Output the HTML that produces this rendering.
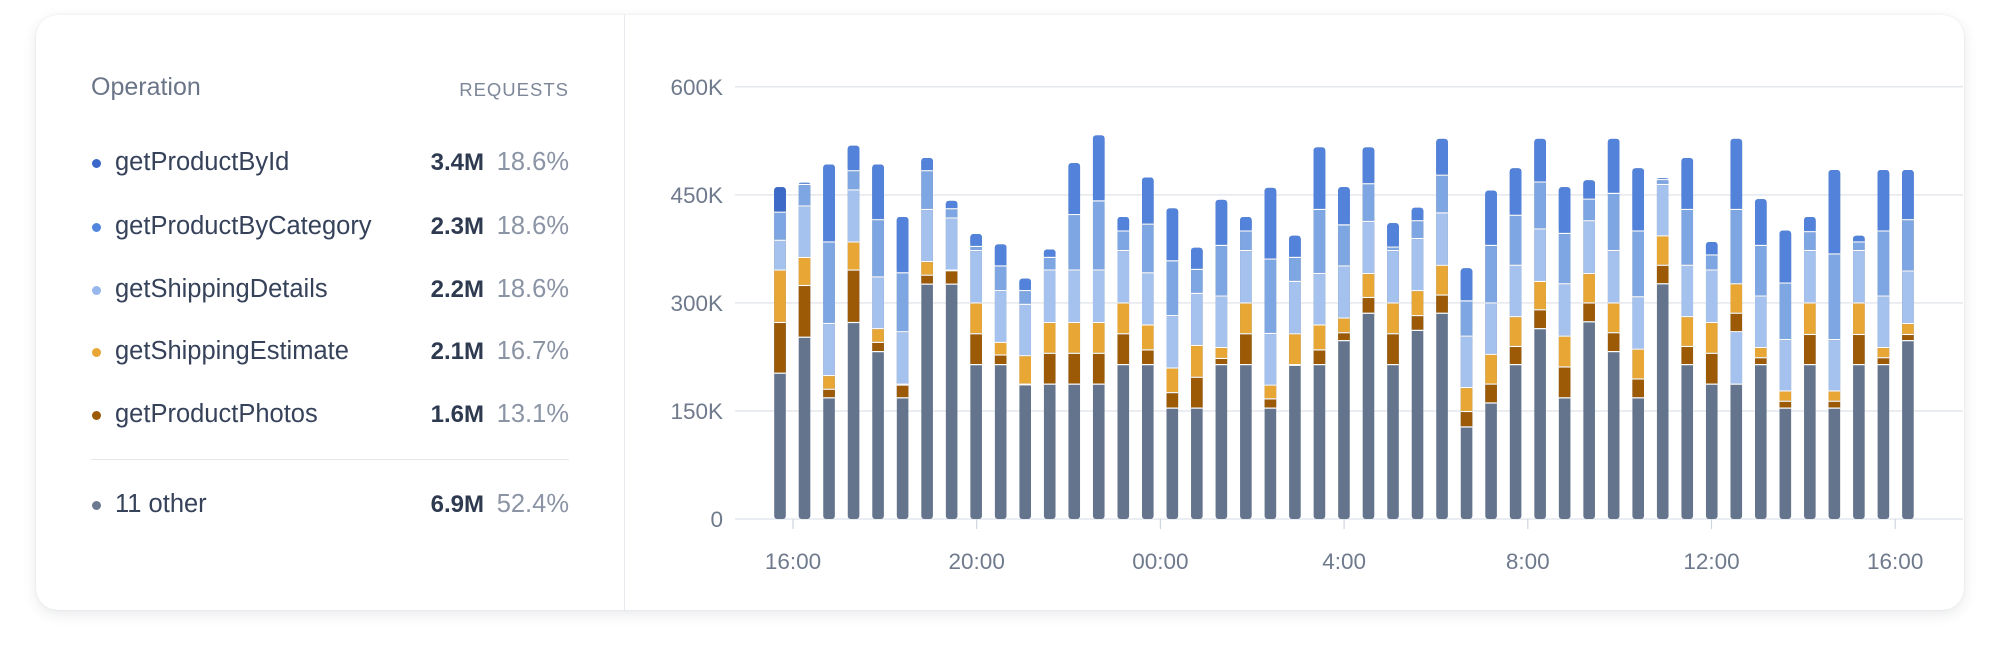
<!DOCTYPE html>
<html><head><meta charset="utf-8"><style>
body{margin:0;width:2000px;height:656px;background:#fff;overflow:hidden;font-family:"Liberation Sans",sans-serif}
.card{position:absolute;left:36px;top:15px;width:1928px;height:595px;border-radius:22px;background:#fff;box-shadow:0 4px 14px rgba(30,40,60,0.10),0 0 2px rgba(30,40,60,0.08)}
.div{position:absolute;left:624px;top:15px;width:1px;height:595px;background:#e6e9ee}
.t{position:absolute;white-space:nowrap;line-height:1}
.dot{position:absolute;width:9px;height:9px;border-radius:50%}
</style></head><body>
<div class="card"></div><div class="div"></div>
<div class="t" style="left:91px;top:75px;font-size:25px;color:#6b7588">Operation</div>
<div class="t" style="right:1431px;top:81px;font-size:18.5px;color:#7d8699;letter-spacing:1px">REQUESTS</div>
<div id="leg"></div>
<div style="position:absolute;left:91px;top:459px;width:478px;height:1px;background:#e3e6ea"></div>
<svg id="ch" width="2000" height="656" style="position:absolute;left:0;top:0"></svg>
<script>
var rows=[["#3a67c9","getProductById","3.4M","18.6%",163],["#5286de","getProductByCategory","2.3M","18.6%",227],["#96b6ec","getShippingDetails","2.2M","18.6%",290],["#e8a634","getShippingEstimate","2.1M","16.7%",352],["#9c5a06","getProductPhotos","1.6M","13.1%",415],["#6b7a90","11 other","6.9M","52.4%",505]];
var h="";rows.forEach(function(r){h+='<div class="dot" style="left:92px;top:'+(r[4]-4.5)+'px;background:'+r[0]+'"></div>'+
'<div class="t" style="left:115px;top:'+(r[4]-13)+'px;font-size:25.5px;color:#36425a">'+r[1]+'</div>'+
'<div class="t" style="right:1516px;top:'+(r[4]-12)+'px;font-size:24px;font-weight:bold;color:#2e3a50">'+r[2]+'</div>'+
'<div class="t" style="right:1431px;top:'+(r[4]-13)+'px;font-size:25.5px;color:#8b94a5">'+r[3]+'</div>';});
document.getElementById('leg').innerHTML=h;
var s="";
var Y=function(v){return 519-v/600*432.2};
[0,150,300,450,600].forEach(function(v){var y=Y(v);s+='<line x1="735" x2="1963" y1="'+y+'" y2="'+y+'" stroke="#e4e8ee" stroke-width="1.5"/>';
s+='<text x="723" y="'+(y+8)+'" text-anchor="end" font-size="22.5" fill="#6f7a8d">'+(v?v+'K':'0')+'</text>';});
["16:00","20:00","00:00","4:00","8:00","12:00","16:00"].forEach(function(l,i){var x=793+i*183.7;
s+='<line x1="'+x+'" x2="'+x+'" y1="519" y2="529" stroke="#cfd5de" stroke-width="1.2"/><text x="'+x+'" y="569" text-anchor="middle" font-size="22.5" fill="#6f7a8d">'+l+'</text>';});
var B=[[368,443,525,612,765,913],[355,362,425,575,657,808],[302,530,768,920,960,985],[247,322,378,530,612,765],[302,465,632,783,823,850],[455,620,792,945,948,985],[283,322,435,587,627,653],[408,433,460,612,614,653],[505,543,555,708,798,888],[535,600,672,823,860,888],[635,672,712,862,945,947],[550,575,612,765,855,945],[298,450,612,765,855,945],[217,410,612,765,855,945],[455,498,555,708,798,888],[340,478,620,772,845,888],[430,585,745,898,970,1015],[545,610,680,832,925,1015],[405,540,688,838,870,888],[455,498,555,708,798,888],[370,580,797,948,988,1015],[510,575,645,798,888,890],
[252,435,622,772,845,888],[368,480,600,752,795,818],[252,360,470,622,692,738],[473,545,555,708,798,888],[428,468,520,672,745,788],[227,335,445,598,685,738],[605,702,805,955,1025,1070],[378,540,708,858,945,1000],[313,452,598,748,835,888],[227,355,492,645,728,783],[368,505,652,805,895,985],[348,405,468,622,708,763],[227,388,555,708,795,850],[313,498,690,843,930,985],[342,348,362,512,598,652],[283,435,598,748,835,888],[528,568,612,765,855,945],[227,435,652,738,792,945],[403,540,688,838,868,888],[495,650,815,965,995,1015],[455,500,555,708,800,888],[318,565,815,965,995,1015],[510,530,555,708,800,888],[318,498,688,838,868,888],[318,465,615,768,800,818]];
var C=["#5282d9","#7ea6e2","#a5c1ee","#e8a634","#9c5a06"];
function zy(z){return 86.8+(z-75)*0.34247}
B.forEach(function(b,i){var w=11.6,x=780+i*24.52-w/2;
var top=zy(b[0]);
s+='<rect x="'+x+'" y="'+top+'" width="'+w+'" height="'+(519-top)+'" rx="3" fill="#64748c"/>';
var cols=C.slice();if(i==0)cols[0]="#3d69c7";if(i==39)cols=["#5282d9","#7ea6e2","#e8a634","#9c5a06","#a5c1ee"];
for(var k=0;k<5;k++){var y1=zy(b[k]),y2=zy(b[k+1]);if(y2-y1<0.3)continue;
if(k==0){s+='<rect x="'+x+'" y="'+y1+'" width="'+w+'" height="'+Math.max(0,y2-y1-1.2)+'" rx="3" fill="'+cols[k]+'"/><rect x="'+x+'" y="'+(y1+3)+'" width="'+w+'" height="'+Math.max(0,y2-y1-4.2)+'" fill="'+cols[k]+'"/>';}
else s+='<rect x="'+x+'" y="'+y1+'" width="'+w+'" height="'+Math.max(0.6,y2-y1-1.2)+'" fill="'+cols[k]+'"/>';
s+='<rect x="'+x+'" y="'+(y2-1.2)+'" width="'+w+'" height="1.2" fill="#fff"/>';}
});
document.getElementById('ch').innerHTML=s;
</script>
</body></html>
